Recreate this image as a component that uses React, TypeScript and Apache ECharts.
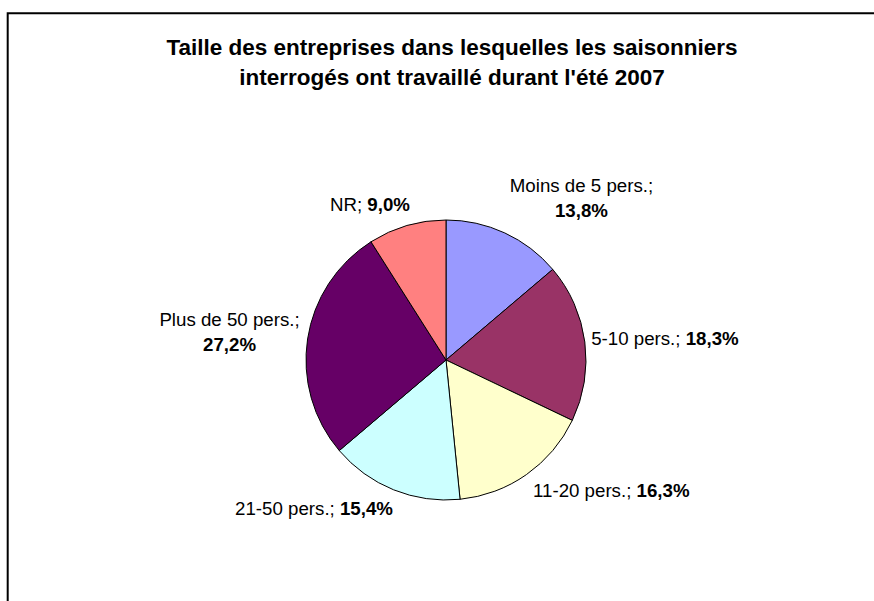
import React, { useEffect, useRef } from "react";
import * as echarts from "echarts";

const TITLE = "Taille des entreprises dans lesquelles les saisonniers\ninterrogés ont travaillé durant l'été 2007";
const CATEGORIES = ["Moins de 5 pers.", "5-10 pers.", "11-20 pers.", "21-50 pers.", "Plus de 50 pers.", "NR"];
const VALUES = [13.8, 18.3, 16.3, 15.4, 27.2, 9.0];
const COLORS = ["#9999FF", "#993366", "#FFFFCC", "#CCFFFF", "#660066", "#FF8080"];
// label layout config (line break, radial length, horizontal length)
const LABEL_BREAK = [true, false, false, false, true, false];
const LABEL_LEN = [38, 23.5, 19.5, 20.5, 46.5, 21.5];
const LABEL_LEN2 = [-11, -17, -4.7, -7, -38, -9];

const FONT = "'Liberation Sans', Arial, sans-serif";

export default function App() {
  const ref = useRef<HTMLDivElement>(null);
  useEffect(() => {
    if (!ref.current) return;
    const chart = echarts.init(ref.current, undefined, { renderer: "svg" });
    const fmt = (v: number) => v.toFixed(1).replace(".", ",") + "%";
    const data = CATEGORIES.map((name, i) => ({
      name,
      value: VALUES[i],
      itemStyle: { color: COLORS[i] },
      label: {
        formatter: LABEL_BREAK[i]
          ? `{nc|${name};}\n{bc|${fmt(VALUES[i])}}`
          : `{n|${name}; }{b|${fmt(VALUES[i])}}`,
      },
      labelLine: { show: false, length: LABEL_LEN[i], length2: LABEL_LEN2[i] },
    }));
    const base = { fontFamily: FONT, fontSize: 18.7, color: "#000", lineHeight: 25 };
    chart.setOption({
      animation: false,
      backgroundColor: "#fff",
      title: {
        text: TITLE,
        left: 447,
        top: 27,
        textAlign: "center",
        textStyle: { fontFamily: FONT, fontSize: 22.5, fontWeight: "bold", color: "#000", lineHeight: 30 },
      },
      graphic: [
        {
          type: "rect",
          shape: { x: 7.7, y: 13.3, width: 1000, height: 1000 },
          style: { fill: "none", stroke: "#000", lineWidth: 2 },
          silent: true,
        },
      ],
      series: [
        {
          type: "pie",
          center: [446, 360],
          radius: 140,
          startAngle: 90,
          clockwise: true,
          avoidLabelOverlap: false,
          itemStyle: { borderColor: "#000", borderWidth: 1 },
          emphasis: { disabled: true },
          label: {
            show: true,
            position: "outside",
            distanceToLabelLine: 0,
            rich: {
              n: { ...base, fontWeight: "normal" },
              b: { ...base, fontWeight: "bold" },
              nc: { ...base, fontWeight: "normal", align: "center" },
              bc: { ...base, fontWeight: "bold", align: "center" },
            },
          },
          data,
        },
      ],
    });
    return () => chart.dispose();
  }, []);
  return <div ref={ref} style={{ position: "absolute", left: 0, top: 0, width: 874, height: 601 }} />;
}
